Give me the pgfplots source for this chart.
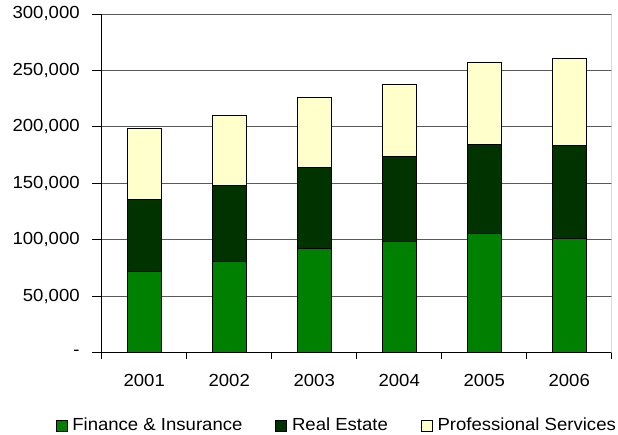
\documentclass[border=0pt]{standalone}
\usepackage{fontspec}
\setmainfont{Liberation Sans}[FakeStretch=1.06]
\usepackage{pgfplots}
\pgfplotsset{compat=1.18}

\definecolor{finance}{RGB}{0,128,0}
\definecolor{realestate}{RGB}{0,51,0}
\definecolor{profserv}{RGB}{255,255,204}
\definecolor{gridgray}{RGB}{90,90,90}

\begin{document}
\fontsize{17.5pt}{21pt}\selectfont
\begin{tikzpicture}
\path[use as bounding box] (-101.7pt,-81.5pt) rectangle (516.3pt,352.5pt);
\begin{axis}[
    at={(0pt,0pt)}, anchor=origin,
    scale only axis,
    width=510pt, height=338.5pt,
    ybar stacked,
    bar width=34pt,
    xmin=0.5, xmax=6.5,
    ymin=0, ymax=300000,
    scaled y ticks=false,
    xtick={1,...,6},
    xticklabels={2001,2002,2003,2004,2005,2006},
    minor xtick={0.5,1.5,...,6.5},
    ytick={0,50000,...,300000},
    yticklabels={{-},{50,000},{100,000},{150,000},{200,000},{250,000},{300,000}},
    tick align=outside,
    major tick length=10pt,
    minor tick length=6pt,
    major x tick style={draw=none},
    tick style={black, line width=0.8pt},
    axis x line*=bottom,
    axis y line*=left,
    axis line style={black, line width=0.9pt},
    ymajorgrids=true,
    grid style={gridgray, line width=0.9pt},
    xticklabel style={yshift=-6pt},
    yticklabel style={xshift=-6pt},
    legend style={
        at={(0.461,-0.216)}, anchor=center,
        legend columns=-1, draw=none, fill=none,
        /tikz/every odd column/.append style={column sep=3pt},
        /tikz/every even column/.append style={column sep=31pt},
    },
    legend image code/.code={\draw[#1, line width=0.6pt] (0pt,-5.5pt) rectangle (11pt,5.5pt);},
]
\addplot[fill=finance, draw=black, line width=0.8pt] coordinates
    {(1,72000) (2,80500) (3,92400) (4,98200) (5,105650) (6,101200)};
\addplot[fill=realestate, draw=black, line width=0.8pt] coordinates
    {(1,64000) (2,67300) (3,71600) (4,75250) (5,78750) (6,82000)};
\addplot[fill=profserv, draw=black, line width=0.8pt] coordinates
    {(1,62600) (2,62300) (3,61700) (4,64050) (5,72900) (6,77800)};
\draw[gray!45, line width=0.9pt] (rel axis cs:1,0) -- (rel axis cs:1,1);
\draw[gridgray, line width=0.9pt] (rel axis cs:0,1) -- (rel axis cs:1,1);
\legend{Finance \& Insurance, Real Estate, Professional Services}
\end{axis}
\end{tikzpicture}
\end{document}
